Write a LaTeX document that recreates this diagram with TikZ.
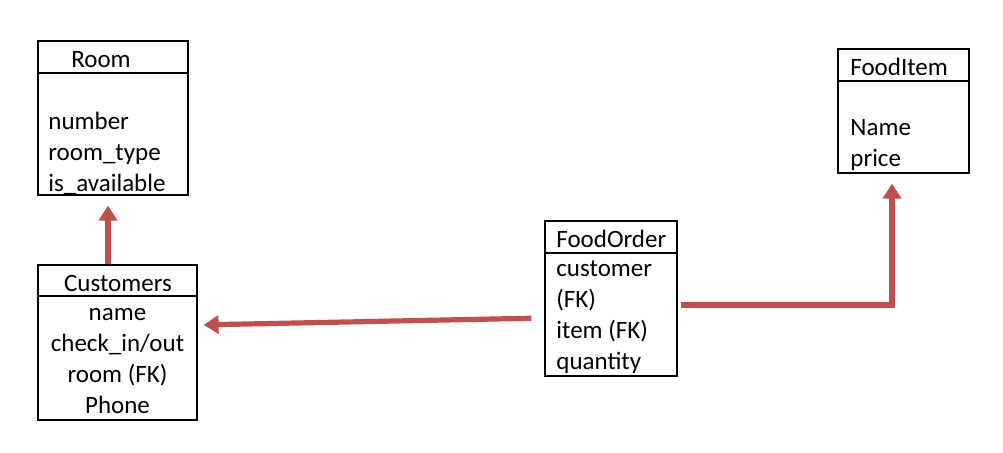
\documentclass[tikz,border=0pt]{standalone}
\usepackage{fontspec}
\setmainfont{Carlito}
\usetikzlibrary{positioning,arrows.meta}
\definecolor{linkred}{RGB}{192,80,77}
\begin{document}
\begin{tikzpicture}[
				x=0.5pt,
				y=-0.5pt,
				font=\fontsize{12.5}{15.5}\selectfont,
				entity/.style={
					rectangle,
					draw,
					line width=0.6pt
					},
				title/.style={
					inner sep=0pt
					},
				attrs/.style={
					inner sep=0pt,
					align=left
					},
				line/.style={
					draw=linkred,
					line width=2.6pt,
					-{Triangle[length=7.5pt,width=9pt]}
					}]
			    \useasboundingbox (0,0) rectangle (1003,453);
			    % Place nodes
			    \node [entity, minimum width=75pt, minimum height=77pt] (room) at (113,118) {};
			    \node [entity, minimum width=79.5pt, minimum height=77.5pt] (customers) at (117.5,342.5) {};
			    \node [entity, minimum width=66pt, minimum height=77.5pt] (order) at (611,298.5) {};
			    \node [entity, minimum width=65.5pt, minimum height=62pt] (item) at (903.5,111) {};

			    \node [title] (roomtitle) at (101,60) {Room};
			    \node [title] (custtitle) at (118,283) {Customers};
			    \node [title, anchor=west] (ordertitle) at (556,239) {FoodOrder};
			    \node [title, anchor=west] (itemtitle) at (850,67) {FoodItem};

			    \node [attrs, anchor=west] (roomattrs) at (48,154) {number\\room\_type\\is\_available};
			    \node [attrs, align=center] (custattrs) at (117.5,361) {name\\check\_in/out\\room (FK)\\Phone};
			    \node [attrs, anchor=west] (orderattrs) at (556,317.5) {customer\\(FK)\\item (FK)\\quantity};
			    \node [attrs, anchor=west] (itemattrs) at (850,145.5) {Name\\price};

			    % Header rules
			    \draw [line width=1.1pt] (room.west |- 0,73) -- (room.east |- 0,73);
			    \draw [line width=0.6pt] (customers.west |- 0,296) -- (customers.east |- 0,296);
			    \draw [line width=0.6pt] (order.west |- 0,253) -- (order.east |- 0,253);
			    \draw [line width=0.6pt] (item.west |- 0,81) -- (item.east |- 0,81);

			    % Draw edges
			    \path [line, shorten >=5pt] ([xshift=-4.75pt]customers.north) -- ([xshift=-2.5pt]room.south);
			    \path [line, shorten <=6.5pt, shorten >=3pt] ([yshift=-9.75pt]order.west) -- ([yshift=8.75pt]customers.east);
			    \path [line, shorten <=1.5pt, shorten >=5pt] ([yshift=-3.25pt]order.east) -| ([xshift=-5.75pt]item.south);
			\end{tikzpicture}
\end{document}
